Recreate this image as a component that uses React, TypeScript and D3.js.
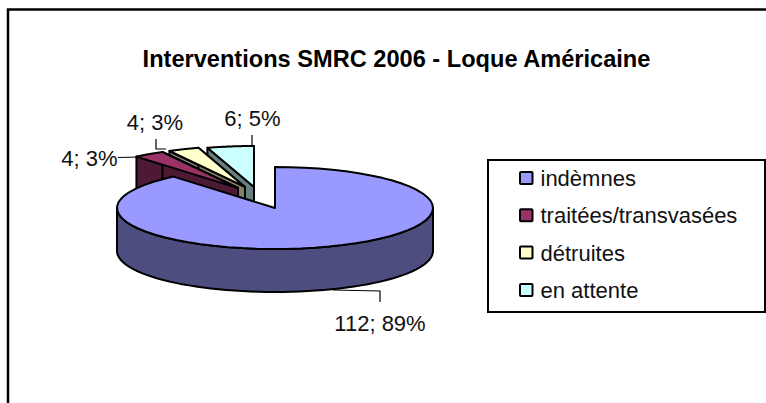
import React from 'react';
import * as d3 from 'd3';

const categories = ['indèmnes', 'traitées/transvasées', 'détruites', 'en attente'];
const values = [112, 4, 4, 6];
const percents = [89, 3, 3, 5];
const topColors = ['#9999ff', '#993366', '#ffffcc', '#ccffff'];
const sideColors = ['#4d4d80', '#4d1933', '#808066', '#668080'];

const width = 766;
const height = 403;
const cx = 275;
const cy = 208;
const rx = 158;
const ry = 41;
const depth = 43;

// where each slice was pulled out to
const apexOffsets = [[0, 0], [-37, -20], [-30, -21], [-21, -21]];
const labelPos = [[380, 331], [89.5, 166], [155, 130], [252.5, 126]];
const leaders = [
  [[333, 290], [380, 291], [380, 302]],
  [[118, 157.5], [140, 157]],
  [[156, 139], [156, 149], [166, 149]],
  [[252, 135], [252, 146], [218, 147]],
];

const arcs = d3.pie<number>().sort(null)(values);
const line = d3.line();

// angle measured clockwise from 12 o'clock, squashed onto the ellipse
const pt = (a: number, ox: number, oy: number): [number, number] => [
  cx + ox + Math.sin(a) * rx,
  cy + oy - Math.cos(a) * ry,
];

const rimPoints = (a0: number, a1: number, ox: number, oy: number) =>
  d3.range(0, 61).map(i => pt(a0 + ((a1 - a0) * i) / 60, ox, oy));

const App = () => {
  const order = [3, 2, 1, 0];
  return (
    <svg
      width={width}
      height={height}
      style={{ position: 'absolute', left: 0, top: 0, background: '#fff' }}
      fontFamily="'Liberation Sans', Arial, sans-serif"
    >
      <path d="M8 403V9.5H766" fill="none" stroke="#000" strokeWidth={2.5} />
      <text x={396.5} y={67} textAnchor="middle" fontSize={23.6} fontWeight="bold">
        Interventions SMRC 2006 - Loque Américaine
      </text>

      {order.map(i => {
        const d = arcs[i];
        const [ox, oy] = apexOffsets[i];
        const apex: [number, number] = [cx + ox, cy + oy];
        const rim = rimPoints(d.startAngle, d.endAngle, ox, oy);
        const first = rim[0];
        const last = rim[rim.length - 1];
        const down = (p: [number, number]): [number, number] => [p[0], p[1] + depth];
        return (
          <g key={i} stroke="#000" strokeWidth={2} strokeLinejoin="round">
            {i === 0 ? (
              <path
                d={line([
                  ...rimPoints(Math.PI / 2, (3 * Math.PI) / 2, ox, oy),
                  ...rimPoints(Math.PI / 2, (3 * Math.PI) / 2, ox, oy).reverse().map(down),
                ]) + 'Z'}
                fill={sideColors[i]}
              />
            ) : (
              <path
                d={line([apex, first, down(first), down(apex)]) + 'Z'}
                fill={sideColors[i]}
              />
            )}
            {i !== 0 && (
              <path
                d={line([apex, last, down(last), down(apex)]) + 'Z'}
                fill={sideColors[i]}
              />
            )}
            <path d={line([apex, ...rim]) + 'Z'} fill={topColors[i]} />
          </g>
        );
      })}

      {leaders.map((l, i) => (
        <path key={i} d={line(l as [number, number][]) ?? ''} fill="none" stroke="#000" strokeWidth={1.2} />
      ))}
      {categories.map((c, i) => (
        <text key={c} x={labelPos[i][0]} y={labelPos[i][1]} textAnchor="middle" fontSize={22} fill="#111">
          {`${values[i]}; ${percents[i]}%`}
        </text>
      ))}

      <rect x={488} y={160} width={277} height={152} fill="#fff" stroke="#000" strokeWidth={2} />
      {categories.map((c, i) => {
        const y = 186 + i * 37.3;
        return (
          <g key={c}>
            <rect x={520} y={y - 14} width={12.5} height={12} rx={1} fill={topColors[i]} stroke="#000" strokeWidth={2} />
            <text x={540.5} y={y} fontSize={22} fill="#111">
              {c}
            </text>
          </g>
        );
      })}
    </svg>
  );
};

export default App;
